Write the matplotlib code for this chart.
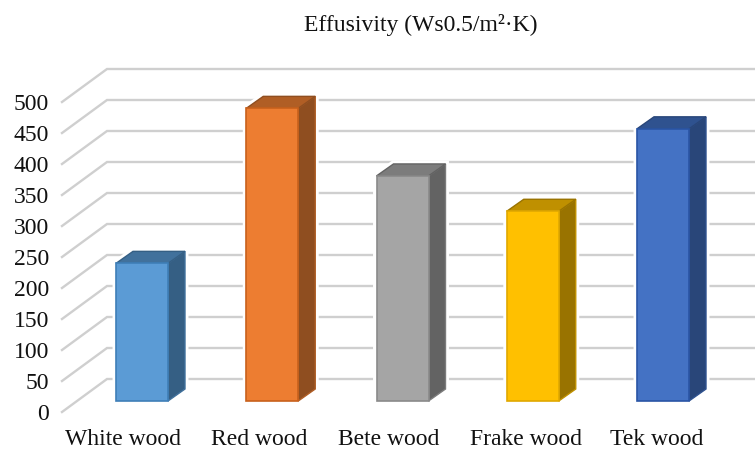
import matplotlib
matplotlib.use("Agg")
import matplotlib.pyplot as plt
from matplotlib.patches import Polygon

# ---- data ----
categories = ["White wood", "Red wood", "Bete wood", "Frake wood", "Tek wood"]
effusivity = [222, 472, 363, 306, 439]
y_ticks = [0, 50, 100, 150, 200, 250, 300, 350, 400, 450, 500]
title = "Effusivity (Ws0.5/m²·K)"
front_colors = ["#5B9BD5", "#ED7D31", "#A5A5A5", "#FFC000", "#4472C4"]
side_colors = ["#355F84", "#8F4E20", "#636363", "#997300", "#294679"]
top_colors = ["#41719C", "#B05E25", "#7C7C7C", "#BF9000", "#2F528F"]
edge_colors = ["#3F7FB8", "#C8611C", "#8A8A8A", "#E0A800", "#2A55A5"]
label_shift = [-0.145, -0.10, -0.105, -0.055, -0.05]

plt.rcParams["font.family"] = ["Liberation Serif", "DejaVu Serif"]

W, H = 755, 450
fig = plt.figure(figsize=(W / 100, H / 100), dpi=100)
L, R, B, T = 62, 755, 412, 69
ax = fig.add_axes([L / W, 1 - B / H, (R - L) / W, (B - T) / H])

X0, XS = 142.0, 130.25   # pixel of category 0, pixels per category
YS = 0.62                # pixels per value unit
ax.set_xlim((L - X0) / XS, (R - X0) / XS)
ax.set_ylim(0, (B - T) / YS)

px_x = lambda p: p / XS
px_y = lambda p: p / YS
x_left = (L - X0) / XS
x_right = (R - X0) / XS

# perspective walls
wall_dx, wall_dy = px_x(45), px_y(33)
for v in y_ticks:
    ax.plot([x_left, x_left + wall_dx, x_right], [v, v + wall_dy, v + wall_dy],
            color="#CFCFCF", lw=1.7, solid_joinstyle="miter", zorder=1, clip_on=False)

# bars
half = px_x(26)
depth_x, depth_y = px_x(17), px_y(12)
base = px_y(11)
for i, v in enumerate(effusivity):
    top = base + v
    l, r = i - half, i + half
    sil = [(l, base), (r, base), (r + depth_x, base + depth_y),
           (r + depth_x, top + depth_y), (l + depth_x, top + depth_y), (l, top)]
    ax.add_patch(Polygon(sil, closed=True, fc="white", ec="white", lw=5, zorder=2))
    ax.add_patch(Polygon([(r, base), (r + depth_x, base + depth_y),
                          (r + depth_x, top + depth_y), (r, top)],
                         closed=True, fc=side_colors[i], ec=top_colors[i], lw=1.0, zorder=3))
    ax.add_patch(Polygon([(l, top), (r, top), (r + depth_x, top + depth_y),
                          (l + depth_x, top + depth_y)],
                         closed=True, fc=top_colors[i], ec=side_colors[i], lw=1.0, zorder=3))
    ax.bar(i, v, width=2 * half, bottom=base, color=front_colors[i],
           edgecolor=edge_colors[i], lw=1.2, zorder=4)

ax.set_yticks(y_ticks)
ax.set_xticks([i + s for i, s in enumerate(label_shift)])
ax.set_xticklabels(categories)
ax.tick_params(axis="y", length=0, pad=9.5, labelsize=17, labelcolor="#111111")
ax.tick_params(axis="x", length=0, pad=12.5, labelsize=17, labelcolor="#111111")
for s in ax.spines.values():
    s.set_visible(False)

fig.text(421 / W, 1 - 25 / H, title, ha="center", va="center", fontsize=17, color="#111111")
fig.savefig("out.png", dpi=100)
